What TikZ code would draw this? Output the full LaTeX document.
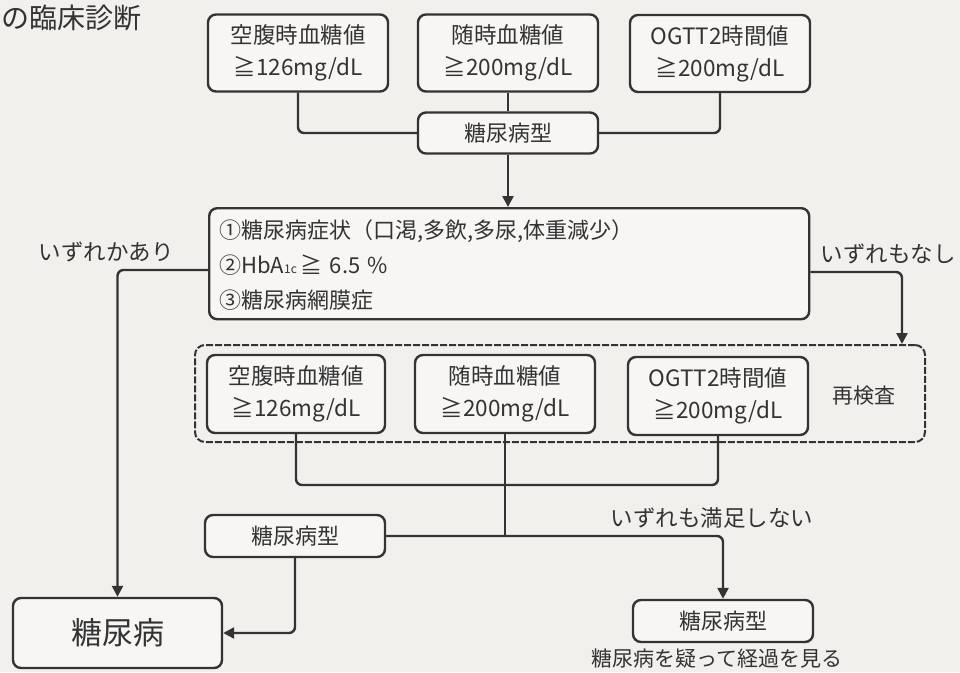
\documentclass[tikz,border=0pt]{standalone}
\usepackage{fontspec}
\setmainfont{Noto Sans CJK JP}
\usetikzlibrary{arrows.meta}
\definecolor{ink}{HTML}{333333}
\definecolor{paper}{HTML}{F2F0ED}
\tikzset{
  box/.style={draw=ink, line width=2.4pt, rounded corners=8pt, fill=white!40!paper, text=ink, align=center, inner sep=0pt, font=\fontsize{22.5}{32}\selectfont},
  conn/.style={draw=ink, line width=2.4pt, rounded corners=6pt},
  arr/.style={conn, -{Triangle[width=11pt,length=11pt]}},
  lbl/.style={text=ink, inner sep=0pt, font=\fontsize{22.5}{24}\selectfont},
  tag/.style={font=\fontsize{22}{24}\selectfont},
}
\begin{document}
\begin{tikzpicture}[x=1pt,y=-1pt]
\fill[paper] (0,0) rectangle (960,672);
\useasboundingbox (0,0) rectangle (960,672);

\node[lbl, anchor=west, font=\fontsize{28}{30}\selectfont] (title) at (1,18) {の臨床診断};

% top row
\node[box, minimum width=180pt, minimum height=77pt] (A1) at (298,53) {空腹時血糖値\\≧126mg/dL};
\node[box, minimum width=180pt, minimum height=77pt] (A2) at (508,53) {随時血糖値\\≧200mg/dL};
\node[box, minimum width=180pt, minimum height=77pt] (A3) at (720,53.5) {OGTT2時間値\\≧200mg/dL};
\node[box, tag, minimum width=180pt, minimum height=41pt] (T1) at (508,133) {糖尿病型};

% symptom box
\node[box, minimum width=600pt, minimum height=111pt, align=left, anchor=north west, font=\fontsize{22}{35}\selectfont, text width=588pt] (B) at (208,207) {\hspace*{4pt}\rule{0pt}{22pt}①糖尿病症状（口渇,多飲,多尿,体重減少）\\
\hspace*{4pt}②HbA{\fontsize{12}{12}\selectfont 1c}\,≧ 6.5 \%\\
\hspace*{4pt}③糖尿病網膜症};

% retest group
\node[box, fill=none, dash pattern=on 7pt off 2pt, rounded corners=10pt, minimum width=730pt, minimum height=97pt, line width=2pt] (C) at (560,393.5) {};
\node[box, minimum width=178pt, minimum height=78pt] (C1) at (296,394) {空腹時血糖値\\≧126mg/dL};
\node[box, minimum width=180pt, minimum height=78pt] (C2) at (505,394) {随時血糖値\\≧200mg/dL};
\node[box, minimum width=180pt, minimum height=78pt] (C3) at (718,396) {OGTT2時間値\\≧200mg/dL};
\node[lbl, font=\fontsize{21}{24}\selectfont] (re) at (864,396) {再検査};

% lower
\node[box, tag, minimum width=180pt, minimum height=42pt] (T2) at (295,536) {糖尿病型};
\node[box, minimum width=209pt, minimum height=70pt, font=\fontsize{31}{33}\selectfont] (D) at (117.5,633) {糖尿病};
\node[box, tag, minimum width=180pt, minimum height=42pt] (T3) at (723,621) {糖尿病型};
\node[lbl, font=\fontsize{21}{24}\selectfont] (note) at (717,659) {糖尿病を疑って経過を見る};

% labels
\node[lbl] (l1) at (106,252) {いずれかあり};
\node[lbl] (l2) at (888,254) {いずれもなし};
\node[lbl] (l3) at (712,518) {いずれも満足しない};

% connectors
\draw[conn] (A1.south) |- (T1.west);
\draw[conn] (A3.south) |- (T1.east);
\draw[conn] (A2.south) -- (T1.north);
\draw[arr] (T1.south) -- (B.north -| T1.south);
\draw[arr] ([yshift=-63pt]B.north west) -| (D.north);
\draw[arr] ([yshift=-65pt]B.north east) -| ([xshift=342pt]C.north);
\draw[conn] (C1.south) |- (508,485) -| (C3.south);
\draw[arr] (T2.east) -| (T3.north);
\draw[conn] (C2.south) -- (C2.south |- T2.east);
\draw[arr] (T2.south) |- (D.east);
\end{tikzpicture}
\end{document}
